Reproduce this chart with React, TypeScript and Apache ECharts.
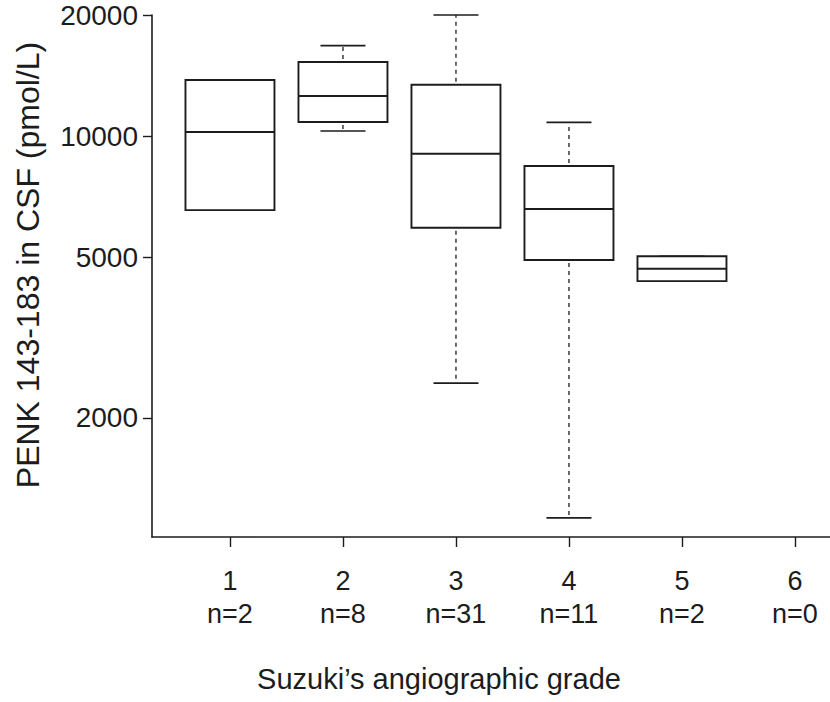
import React, { useEffect, useRef } from "react";
import * as echarts from "echarts";

// ---- data ----
const grades = [1, 2, 3, 4, 5, 6];
const nCounts = [2, 8, 31, 11, 2, 0];
const boxGrades = [1, 2, 3, 4, 5];
const whiskerLow = [6560, 10310, 2440, 1130, 4370];
const q1 = [6560, 10850, 5930, 4930, 4370];
const median = [10250, 12590, 9050, 6600, 4690];
const q3 = [13800, 15290, 13430, 8440, 5040];
const whiskerHigh = [13800, 16790, 20000, 10830, 5040];
const yTicks = [2000, 5000, 10000, 20000];
const yMin = 1013;
const yMax = 20000;

const INK = "#1c1c1c";
const FONT = "Liberation Sans, Arial, sans-serif";
const BOX_HALF = 44.5;
const CAP_HALF = 22.5;

export default function App() {
  const ref = useRef<HTMLDivElement>(null);

  useEffect(() => {
    if (!ref.current) return;
    const chart = echarts.init(ref.current, null, { renderer: "svg" });
    const lg = (v: number) => Math.log10(v);
    const data = boxGrades.map((g, i) => [
      g,
      lg(whiskerLow[i]),
      lg(q1[i]),
      lg(median[i]),
      lg(q3[i]),
      lg(whiskerHigh[i]),
    ]);

    const renderItem = (params: any, api: any) => {
      const x = api.value(0);
      const pLo = api.coord([x, api.value(1)]);
      const pA = api.coord([x, api.value(2)]);
      const pM = api.coord([x, api.value(3)]);
      const pB = api.coord([x, api.value(4)]);
      const pHi = api.coord([x, api.value(5)]);
      const cx = pM[0];
      const children: any[] = [];
      const dashStyle = { stroke: INK, lineWidth: 1.3, lineDash: [4, 4], lineDashOffset: 5 };
      const capStyle = { stroke: INK, lineWidth: 1.6 };
      if (pHi[1] < pB[1] - 1) {
        children.push({ type: "line", shape: { x1: cx, y1: pB[1], x2: cx, y2: pHi[1] }, style: dashStyle });
      }
      if (pLo[1] > pA[1] + 1) {
        children.push({ type: "line", shape: { x1: cx, y1: pA[1], x2: cx, y2: pLo[1] }, style: dashStyle });
      }
      children.push({ type: "line", shape: { x1: cx - CAP_HALF, y1: pHi[1], x2: cx + CAP_HALF, y2: pHi[1] }, style: capStyle });
      children.push({ type: "line", shape: { x1: cx - CAP_HALF, y1: pLo[1], x2: cx + CAP_HALF, y2: pLo[1] }, style: capStyle });
      children.push({
        type: "rect",
        shape: { x: cx - BOX_HALF, y: pB[1], width: BOX_HALF * 2, height: pA[1] - pB[1] },
        style: { fill: "#ffffff", stroke: INK, lineWidth: 1.9 },
      });
      children.push({
        type: "line",
        shape: { x1: cx - BOX_HALF, y1: pM[1], x2: cx + BOX_HALF, y2: pM[1] },
        style: { stroke: INK, lineWidth: 1.9 },
      });
      return { type: "group", children };
    };

    chart.setOption({
      animation: false,
      backgroundColor: "#ffffff",
      grid: { left: 152, right: 0, top: 15, bottom: 165, containLabel: false, outerBoundsMode: "none" },
      xAxis: {
        type: "value",
        min: 0.31,
        max: 6.31,
        name: "Suzuki\u2019s angiographic grade",
        nameLocation: "middle",
        nameGap: 127,
        nameTextStyle: {
          fontFamily: FONT,
          fontSize: 29,
          color: INK,
          lineHeight: 29,
          padding: [0, 104, 0, 0],
        },
        splitLine: { show: false },
        axisLine: { show: true, lineStyle: { color: INK, width: 1.6 } },
        axisTick: { show: true, length: 10, customValues: grades, lineStyle: { color: INK, width: 1.4 } },
        axisLabel: {
          customValues: grades,
          margin: 27,
          fontFamily: FONT,
          fontSize: 27,
          lineHeight: 33,
          color: INK,
          formatter: (v: number) => {
            const idx = grades.indexOf(Math.round(v));
            return `${Math.round(v)}\nn=${nCounts[idx]}`;
          },
        },
      },
      yAxis: {
        type: "value",
        min: Math.log10(yMin),
        max: Math.log10(yMax),
        name: "PENK 143-183 in CSF (pmol/L)",
        nameLocation: "middle",
        nameGap: 108,
        nameRotate: 90,
        nameTextStyle: {
          fontFamily: FONT,
          fontSize: 32,
          color: INK,
          lineHeight: 32,
          padding: [0, 0, 0, 22],
        },
        splitLine: { show: false },
        axisLine: { show: true, lineStyle: { color: INK, width: 1.6 } },
        axisTick: {
          show: true,
          length: 9,
          customValues: yTicks.map((v) => Math.log10(v)),
          lineStyle: { color: INK, width: 1.4 },
        },
        axisLabel: {
          customValues: yTicks.map((v) => Math.log10(v)),
          margin: 14,
          fontFamily: FONT,
          fontSize: 28,
          lineHeight: 28,
          color: INK,
          verticalAlign: "middle",
          padding: [18, 0, 0, 0],
          formatter: (v: number) => String(Math.round(Math.pow(10, v))),
        },
      },
      series: [
        {
          type: "custom",
          renderItem,
          clip: false,
          encode: { x: 0, y: [1, 2, 3, 4, 5] },
          data,
        },
      ],
    });

    return () => chart.dispose();
  }, []);

  return (
    <div
      ref={ref}
      style={{ position: "fixed", left: 0, top: 0, width: 830, height: 702, background: "#fff" }}
    />
  );
}
